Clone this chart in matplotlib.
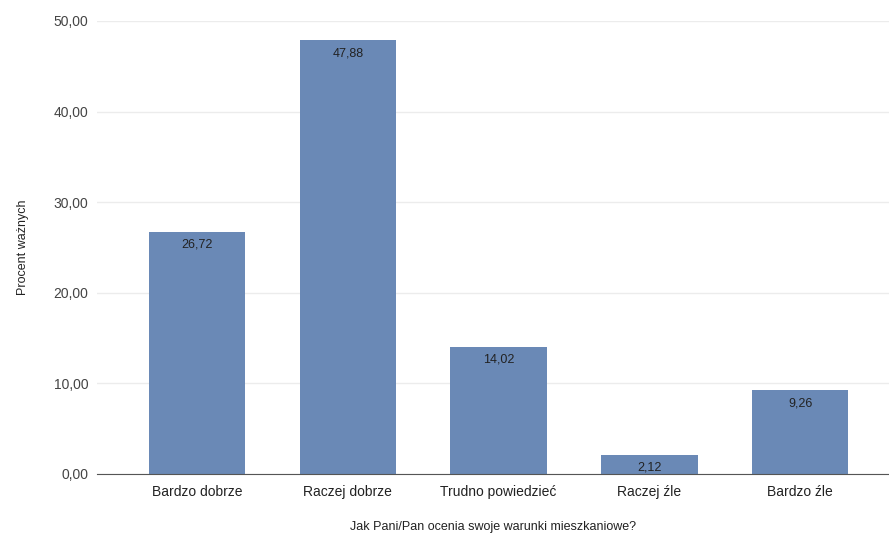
import matplotlib.pyplot as plt

# values
categories = ['Bardzo dobrze', 'Raczej dobrze', 'Trudno powiedzieć', 'Raczej źle', 'Bardzo źle']
percent = [26.72, 47.88, 14.02, 2.12, 9.26]
y_ticks = [0, 10, 20, 30, 40, 50]

plt.rcParams['font.family'] = ['Liberation Sans', 'DejaVu Sans']

fig = plt.figure(figsize=(8.89, 5.33), dpi=100)
ax = fig.add_axes([0.109, 0.1107, 0.891, 0.85])

x = range(len(categories))
bars = ax.bar(x, percent, width=0.64, color='#6a89b6', zorder=2)

# value labels just inside the top of each bar
for b, v in zip(bars, percent):
	ax.annotate('{:.2f}'.format(v).replace('.', ','),
		xy=(b.get_x() + b.get_width() / 2, v), xytext=(0, -5),
		textcoords='offset points', ha='center', va='top',
		fontsize=9, color='#222222', zorder=3)

ax.set_xlim(-0.665, 4.59)
ax.set_ylim(0, 50)
ax.set_yticks(y_ticks)
ax.set_yticklabels(['{:.2f}'.format(t).replace('.', ',') for t in y_ticks])
ax.set_xticks(list(x))
ax.set_xticklabels(categories)

ax.tick_params(axis='both', length=0, labelsize=10, colors='#444444')
ax.tick_params(axis='x', pad=8, colors='#222222')
ax.tick_params(axis='y', pad=6)

ax.yaxis.grid(True, color='#ececec', linewidth=1, zorder=0)
for s in ['top', 'right', 'left']:
	ax.spines[s].set_visible(False)
ax.spines['bottom'].set_color('#555555')
ax.spines['bottom'].set_zorder(3)

ax.set_ylabel('Procent ważnych', fontsize=9, color='#222222', labelpad=18)
ax.set_xlabel('Jak Pani/Pan ocenia swoje warunki mieszkaniowe?', fontsize=9, color='#222222', labelpad=16)

fig.savefig('out.png', dpi=100)
